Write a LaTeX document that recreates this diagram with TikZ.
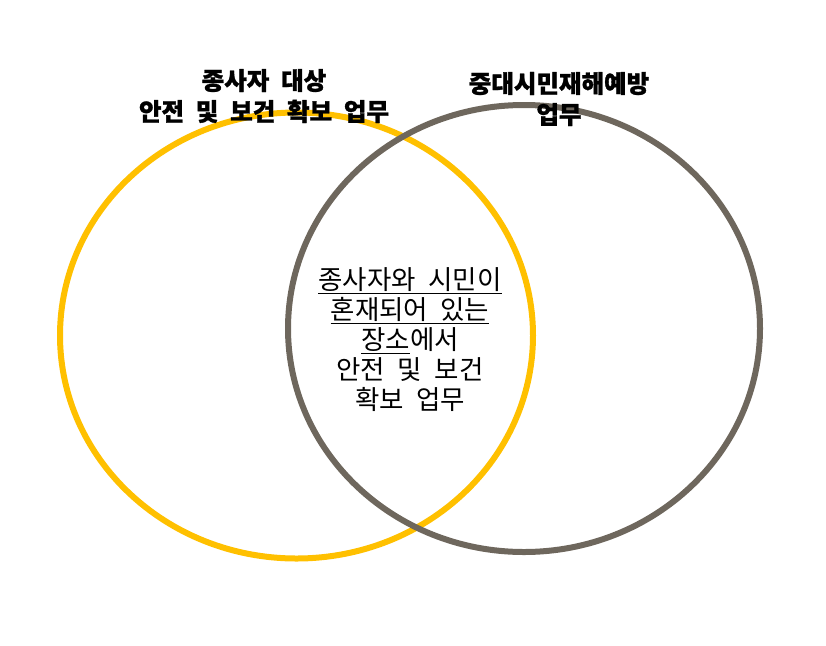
\documentclass[tikz,border=0pt]{standalone}
\usepackage{fontspec}
\usepackage{xcolor}
\newfontfamily\hangulfont{Noto Sans CJK KR}[WordSpace=0.6]
\newfontfamily\hangultitle{Noto Sans CJK KR}[WordSpace=2.1, BoldFeatures={FakeBold=1.2}]
\definecolor{ringyellow}{HTML}{FFC000}
\definecolor{ringgray}{HTML}{6E675D}
\newcommand{\spotline}[1]{\setbox0\hbox{#1}\rlap{\rule[-4.5pt]{\wd0}{1.3pt}}\box0}
\tikzset{
	titletext/.style = {align = center, font = \hangultitle\bfseries\fontsize{24.5}{31}\selectfont},
	bodytext/.style = {align = center, font = \hangulfont\fontsize{26.5}{30}\selectfont},
}

\begin{document}
\begin{tikzpicture}[x = 1pt, y = -1pt]
	\useasboundingbox (0,0) rectangle (826,645);
	\begin{scope}[line width = 6pt]
		\draw [ringyellow] (296.5,335.5) ellipse [x radius = 236.5pt, y radius = 223pt];
		\draw [ringgray] (524,328.5) ellipse [x radius = 236pt, y radius = 223.5pt];
	\end{scope}
	\begin{scope}
		\node (workerlabel) [titletext] at (264,96) {종사자 대상\\안전 및 보건 확보 업무};
		\node (citizenlabel) [titletext] at (559,99) {중대시민재해예방\\업무};
		\node (overlaplabel) [bodytext] at (410,340) {\spotline{종사자와 시민이}\\\spotline{혼재되어 있는}\\\spotline{장소}에서\\안전 및 보건\\확보 업무};
	\end{scope}
\end{tikzpicture}
\end{document}
